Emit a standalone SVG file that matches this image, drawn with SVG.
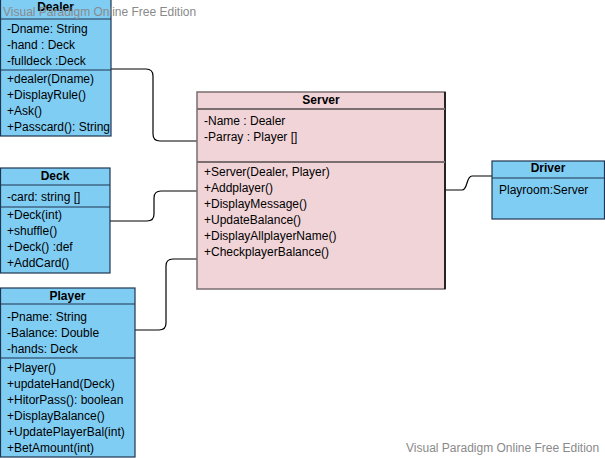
<svg xmlns="http://www.w3.org/2000/svg" width="605" height="458" viewBox="0 0 605 458">
<style>
text{font-family:"Liberation Sans",Arial,sans-serif;font-size:12px;fill:#000}
.t{font-weight:bold;text-anchor:middle}
.b{fill:#80cdf4;stroke:#1e3550;stroke-width:1.2}
.bl{stroke:#1e3550;stroke-width:1.2}
.p{fill:#f1d4d8;stroke:#7a6e70;stroke-width:1.5}
.pl{stroke:#7a6e70;stroke-width:2}
.c{fill:none;stroke:#000;stroke-width:1.2}
.w{fill:#8a8a8a;font-size:12px}
</style>
<g id="connectors">
<path class="c" d="M111,69 H146 Q153,69 153,76 V134 Q153,141 160,141 H197"/>
<path class="c" d="M110,221 H147 Q154,221 154,214 V198 Q154,191 161,191 H197"/>
<path class="c" d="M135,330 H159 Q166,330 166,323 V266 Q166,259 173,259 H197"/>
<path class="c" d="M445,190 H462 C468,190 466,176 472,176 H492"/>
</g>
<g id="server">
<rect class="p" x="197" y="92" width="248" height="197"/>
<line x1="445" y1="92" x2="445" y2="289" stroke="#000" stroke-width="1.5"/>
<line class="pl" x1="197" y1="109" x2="445" y2="109"/>
<line class="pl" x1="197" y1="162" x2="445" y2="162"/>
<text class="t" x="321" y="104">Server</text>
<text x="204" y="125">-Name : Dealer</text>
<text x="204" y="141">-Parray : Player []</text>
<text x="204" y="176">+Server(Dealer, Player)</text>
<text x="204" y="192">+Addplayer()</text>
<text x="204" y="208">+DisplayMessage()</text>
<text x="204" y="224">+UpdateBalance()</text>
<text x="204" y="240">+DisplayAllplayerName()</text>
<text x="204" y="256">+CheckplayerBalance()</text>
</g>
<g id="dealer">
<rect class="b" x="0.5" y="-1" width="110.5" height="137"/>
<line class="bl" x1="0" y1="19" x2="111" y2="19"/>
<line class="bl" x1="0" y1="70" x2="111" y2="70"/>
<text class="t" x="55.5" y="11">Dealer</text>
<text x="7" y="33">-Dname: String</text>
<text x="7" y="49">-hand : Deck</text>
<text x="7" y="65">-fulldeck :Deck</text>
<text x="7" y="83">+dealer(Dname)</text>
<text x="7" y="99">+DisplayRule()</text>
<text x="7" y="115">+Ask()</text>
<text x="7" y="131">+Passcard(): String</text>
</g>
<g id="deck">
<rect class="b" x="0.5" y="168" width="109.5" height="105"/>
<line class="bl" x1="0" y1="185" x2="110" y2="185"/>
<line class="bl" x1="0" y1="207" x2="110" y2="207"/>
<text class="t" x="55" y="180">Deck</text>
<text x="7" y="201">-card: string []</text>
<text x="7" y="219">+Deck(int)</text>
<text x="7" y="235">+shuffle()</text>
<text x="7" y="251">+Deck() :def</text>
<text x="7" y="267">+AddCard()</text>
</g>
<g id="player">
<rect class="b" x="0.5" y="288" width="134.5" height="169"/>
<line class="bl" x1="0" y1="304" x2="135" y2="304"/>
<line class="bl" x1="0" y1="358" x2="135" y2="358"/>
<text class="t" x="67.5" y="300">Player</text>
<text x="7" y="321">-Pname: String</text>
<text x="7" y="337">-Balance: Double</text>
<text x="7" y="353">-hands: Deck</text>
<text x="7" y="372">+Player()</text>
<text x="7" y="388">+updateHand(Deck)</text>
<text x="7" y="404">+HitorPass(): boolean</text>
<text x="7" y="420">+DisplayBalance()</text>
<text x="7" y="436">+UpdatePlayerBal(int)</text>
<text x="7" y="452">+BetAmount(int)</text>
</g>
<g id="driver">
<rect class="b" x="492" y="161" width="112.5" height="58"/>
<line class="bl" x1="492" y1="178" x2="605" y2="178"/>
<text class="t" x="548" y="172">Driver</text>
<text x="499" y="194">Playroom:Server</text>
</g>
<text class="w" x="3" y="16">Visual Paradigm Online Free Edition</text>
<text class="w" x="406" y="452">Visual Paradigm Online Free Edition</text>
</svg>
